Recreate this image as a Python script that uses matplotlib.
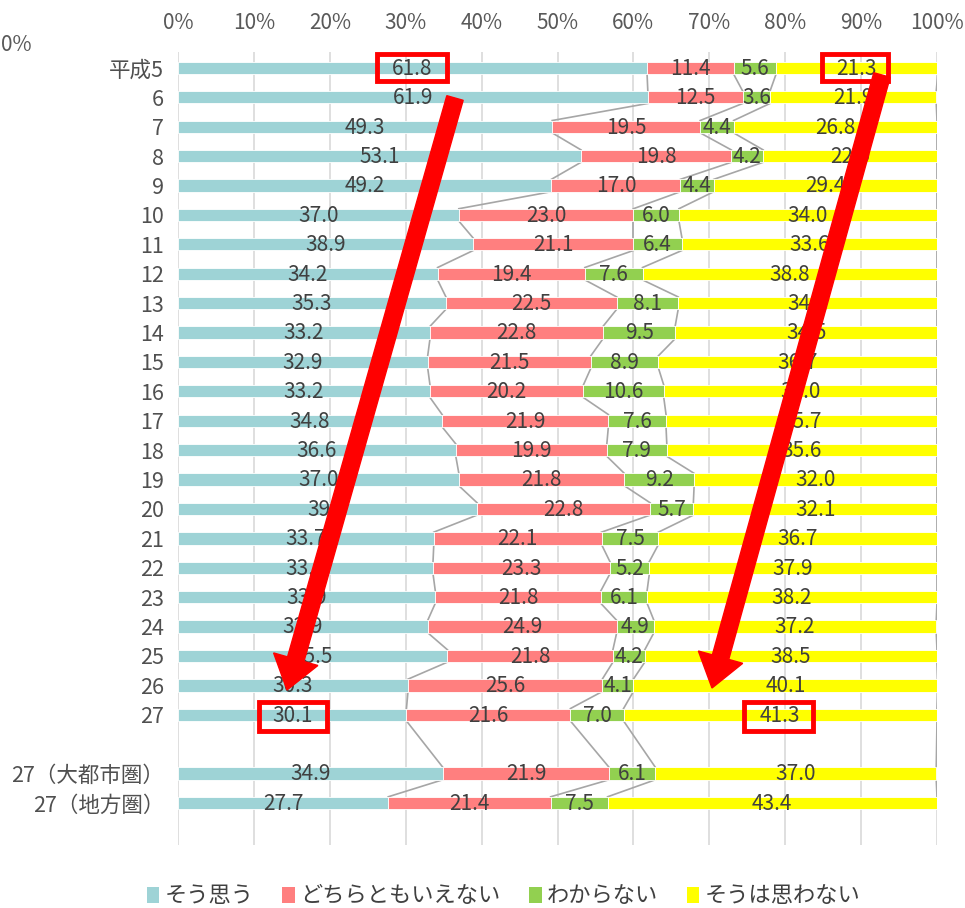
import matplotlib
matplotlib.use("Agg")
import matplotlib.pyplot as plt
import matplotlib.transforms as mtransforms
from matplotlib.patches import Patch, Rectangle, FancyArrow

plt.rcParams['font.family'] = ['Noto Sans CJK JP', 'DejaVu Sans']

categories = ['平成5', '6', '7', '8', '9', '10', '11', '12', '13', '14', '15', '16', '17',
              '18', '19', '20', '21', '22', '23', '24', '25', '26', '27',
              '27（大都市圏）', '27（地方圏）']
series_names = ['そう思う', 'どちらともいえない', 'わからない', 'そうは思わない']
agree = [61.8, 61.9, 49.3, 53.1, 49.2, 37.0, 38.9, 34.2, 35.3, 33.2, 32.9, 33.2, 34.8,
         36.6, 37.0, 39.4, 33.7, 33.6, 33.9, 32.9, 35.5, 30.3, 30.1, 34.9, 27.7]
neutral = [11.4, 12.5, 19.5, 19.8, 17.0, 23.0, 21.1, 19.4, 22.5, 22.8, 21.5, 20.2, 21.9,
           19.9, 21.8, 22.8, 22.1, 23.3, 21.8, 24.9, 21.8, 25.6, 21.6, 21.9, 21.4]
unknown = [5.6, 3.6, 4.4, 4.2, 4.4, 6.0, 6.4, 7.6, 8.1, 9.5, 8.9, 10.6, 7.6,
           7.9, 9.2, 5.7, 7.5, 5.2, 6.1, 4.9, 4.2, 4.1, 7.0, 6.1, 7.5]
disagree = [21.3, 21.9, 26.8, 22.9, 29.4, 34.0, 33.6, 38.8, 34.1, 34.5, 36.7, 36.0, 35.7,
            35.6, 32.0, 32.1, 36.7, 37.9, 38.2, 37.2, 38.5, 40.1, 41.3, 37.0, 43.4]

colors = ['#9ED3D6', '#FF7F7F', '#92D050', '#FFFF00']
txt_color = '#404040'

W, H = 965, 908
fig = plt.figure(figsize=(W / 100, H / 100), dpi=100)
ax = fig.add_axes([178 / W, 1 - 845 / H, (937 - 178) / W, (845 - 52) / H])

ypos = list(range(23)) + [24, 25]
series = [agree, neutral, unknown, disagree]
bh = 0.42
lefts = [0.0] * len(categories)
bounds = []
for s, vals in enumerate(series):
    ax.barh(ypos, vals, left=lefts, height=bh, color=colors[s], edgecolor='white',
            linewidth=0.6, zorder=3)
    for i, v in enumerate(vals):
        ax.text(lefts[i] + v / 2, ypos[i] + 0.03, f'{v:.1f}', ha='center', va='center',
                fontsize=15, color=txt_color, zorder=5)
    lefts = [l + v for l, v in zip(lefts, vals)]
    bounds.append(list(lefts))

# series lines
for b in bounds:
    for i in range(len(ypos) - 1):
        ax.plot([b[i], b[i + 1]], [ypos[i] + bh / 2, ypos[i + 1] - bh / 2],
                color='#A6A6A6', lw=1.2, zorder=2)

ax.set_xlim(0, 100)
ax.set_ylim(26.43, -0.54)
ax.set_xticks(range(0, 101, 10))
ax.set_xticklabels([f'{t}%' for t in range(0, 101, 10)])
ax.xaxis.tick_top()
ax.set_yticks(ypos)
ax.set_yticklabels(categories)
ax.tick_params(axis='x', length=0, labelsize=15, labelcolor='#595959', pad=13)
ax.tick_params(axis='y', length=0, labelsize=15.5, labelcolor='#505050', pad=10)
ax.grid(axis='x', color='#D9D9D9', lw=1.2, zorder=0)
ax.set_axisbelow(True)
for sp in ax.spines.values():
    sp.set_visible(False)

handles = [Patch(facecolor=c, edgecolor='none') for c in colors]
fig.legend(handles, series_names, loc='center', bbox_to_anchor=(0.522, 1 - 896 / H),
           ncol=4, frameon=False, fontsize=16, handlelength=0.55, handleheight=0.75,
           handletextpad=0.25, columnspacing=1.3, labelcolor=txt_color)

fig.text(1 / W, 1 - 45 / H, '0%', ha='left', va='center', fontsize=15, color='#595959')

# annotations in image pixel coordinates
pt = mtransforms.Affine2D().scale(1 / W, -1 / H).translate(0, 1) + fig.transFigure
for (x0, y0, x1, y1) in [(377, 54, 447, 81), (822, 54, 888, 81), (259, 702, 327, 731), (744, 702, 813, 731)]:
    fig.add_artist(Rectangle((x0, y0), x1 - x0, y1 - y0, fill=False, edgecolor='#FF0000',
                             lw=3.5, transform=pt, zorder=10))
for (x0, y0, x1, y1) in [(455, 98, 287, 690), (882, 75, 712, 688)]:
    fig.add_artist(FancyArrow(x0, y0, x1 - x0, y1 - y0, width=17, head_width=46, head_length=32,
                              length_includes_head=True, color='#FF0000', transform=pt, zorder=10))

fig.savefig('out.png', dpi=100)
